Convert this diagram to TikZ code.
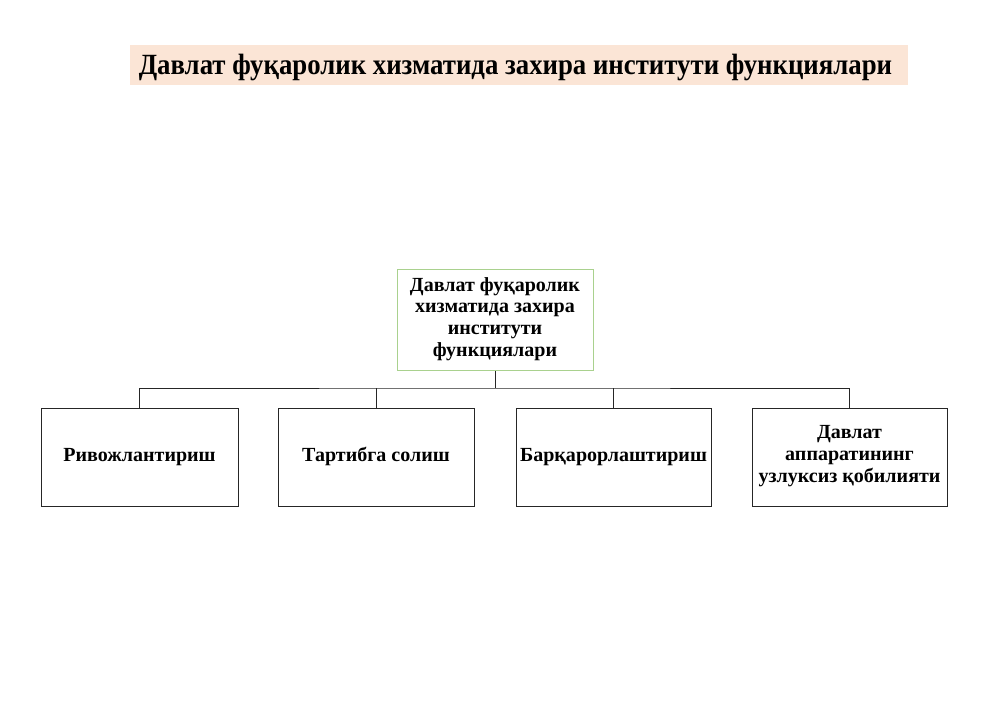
\documentclass[tikz,border=0pt]{standalone}
\usepackage{fontspec}
\setmainfont{Liberation Serif}
\definecolor{titlebg}{HTML}{FBE5D6}
\definecolor{rootgreen}{HTML}{A9D18E}
\begin{document}
\begin{tikzpicture}[x=0.02cm,y=-0.02cm,
  box/.style={draw=black!85,line width=0.5pt,fill=white,align=center,font=\bfseries\fontsize{11.4}{12.4}\selectfont,inner sep=2pt,
    execute at begin node=\strut,execute at end node=\strut},
  link/.style={draw=black!85,line width=0.5pt}]
\useasboundingbox (0,0) rectangle (1000,707);
\fill[white] (0,0) rectangle (1000,707);
% title
\fill[titlebg] (130,45) rectangle (908,85);
\node (title) at (515.5,67) {\scalebox{0.913}[1]{\bfseries\fontsize{16.7}{18}\selectfont Давлат фуқаролик хизматида захира институти функциялари}};
% root
\node[box,draw=rootgreen,minimum width=196*0.02cm,minimum height=101*0.02cm] (root) at (495,320) {Давлат фуқаролик\\хизматида захира\\институти\\функциялари};
% children
\node[box,minimum width=197*0.02cm,minimum height=98*0.02cm] (c1) at (139.5,457) {Ривожлантириш};
\node[box,minimum width=196*0.02cm,minimum height=98*0.02cm] (c2) at (376,457) {Тартибга солиш};
\node[box,minimum width=195*0.02cm,minimum height=98*0.02cm] (c3) at (613.5,457) {Барқарорлаштириш};
\node[box,minimum width=195*0.02cm,minimum height=98*0.02cm] (c4) at (849.5,457) {Давлат\\аппаратининг\\узлуксиз қобилияти};
% connectors
\coordinate (bus) at (495,388);
\draw[link] (root.south) -- (bus);
\draw[link] (c1.north) |- (bus) -| (c4.north);
\draw[link] (c2.north) -- (c2.north |- bus);
\draw[link] (c3.north) -- (c3.north |- bus);
\end{tikzpicture}
\end{document}
